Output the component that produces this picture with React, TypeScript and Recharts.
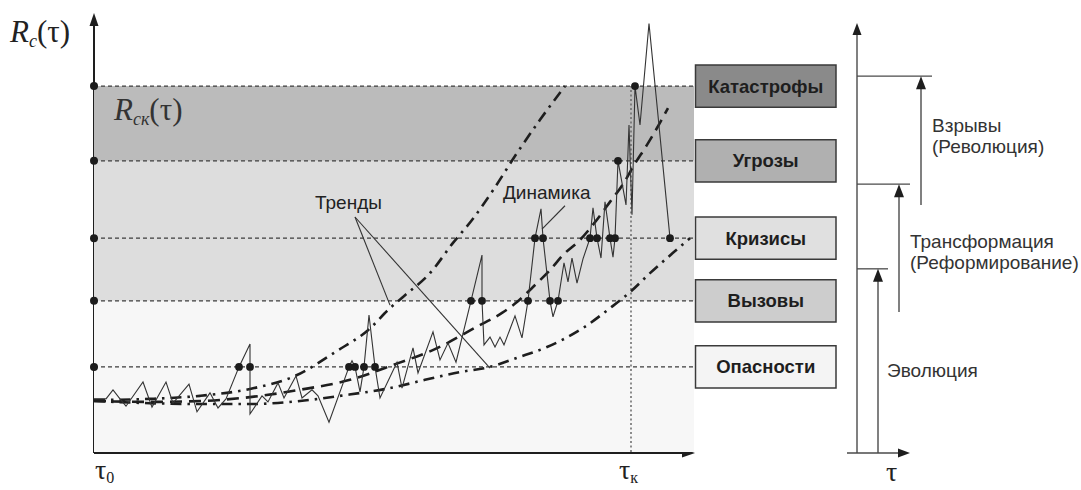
import React from "react";
import {
  ComposedChart,
  Line,
  XAxis,
  YAxis,
  ReferenceArea,
  ReferenceLine,
  ReferenceDot,
  Customized,
} from "recharts";

const W = 1081;
const H = 490;
const M = { top: 20, right: 387, bottom: 38, left: 94 };
const X_MAX = 120;
const Y_MAX = 100;
const SANS = "'Liberation Sans', Arial, sans-serif";
const SERIF = "'Liberation Serif', 'Times New Roman', serif";
const FS = 19;

// threshold levels, bottom to top
const levelNames = ["Опасности", "Вызовы", "Кризисы", "Угрозы", "Катастрофы"];
const levelValues = [19.7, 35.0, 49.5, 67.4, 84.7];
const boxFills = ["#f4f4f4", "#cdcdcd", "#e0e0e0", "#b0b0b0", "#8a8a8a"];

// background bands
const bandEdges = [0, 35.0, 67.4, 84.7];
const bandFills = ["#f7f7f7", "#dddddd", "#bbbbbb"];

// system state R_c(τ); m = crossing of a threshold
const dynamics = [
  { t: 0, v: 12.3 }, { t: 2.4, v: 12.3 }, { t: 3.8, v: 14.4 }, { t: 5.2, v: 12.3 },
  { t: 6.4, v: 10.6 }, { t: 9.8, v: 16.2 }, { t: 11.6, v: 10.4 }, { t: 14.4, v: 16.2 },
  { t: 15.8, v: 11.3 }, { t: 19.0, v: 15.7 }, { t: 20.6, v: 9.3 }, { t: 23.2, v: 13.7 },
  { t: 24.8, v: 10.2 }, { t: 26.4, v: 12.3 }, { t: 29.0, v: 19.7, m: 1 }, { t: 31.2, v: 25.0 },
  { t: 31.2, v: 19.7, m: 1 }, { t: 31.2, v: 8.8 }, { t: 33.6, v: 13.0 }, { t: 34.8, v: 11.6 },
  { t: 36.8, v: 16.0 }, { t: 38.0, v: 12.5 }, { t: 40.4, v: 17.6 }, { t: 41.6, v: 12.5 },
  { t: 43.6, v: 14.4 }, { t: 44.8, v: 13.0 }, { t: 47.0, v: 6.9 }, { t: 51.0, v: 19.7, m: 1 },
  { t: 51.6, v: 21.1 }, { t: 52.2, v: 19.7, m: 1 }, { t: 53.2, v: 13.9 }, { t: 54.0, v: 19.7, m: 1 },
  { t: 55.0, v: 31.7 }, { t: 56.2, v: 19.7, m: 1 }, { t: 57.2, v: 12.5 }, { t: 60.6, v: 20.8 },
  { t: 61.6, v: 14.8 }, { t: 63.8, v: 24.1 }, { t: 64.8, v: 18.3 }, { t: 67.8, v: 27.8 },
  { t: 69.2, v: 21.3 }, { t: 70.8, v: 25.2 }, { t: 72.4, v: 20.8 }, { t: 75.4, v: 35.0, m: 1 },
  { t: 77.6, v: 45.6 }, { t: 77.6, v: 35.0, m: 1 }, { t: 78.0, v: 24.8 }, { t: 79.2, v: 26.6 },
  { t: 80.2, v: 24.3 }, { t: 81.2, v: 26.6 }, { t: 82.0, v: 24.8 }, { t: 84.2, v: 31.5 },
  { t: 85.6, v: 26.4 }, { t: 86.8, v: 35.0, m: 1 }, { t: 88.2, v: 49.5, m: 1 }, { t: 89.4, v: 56.3 },
  { t: 89.8, v: 49.5, m: 1 }, { t: 91.2, v: 35.0, m: 1 }, { t: 91.8, v: 31.3 }, { t: 92.8, v: 35.0, m: 1 },
  { t: 94.0, v: 43.8 }, { t: 94.8, v: 39.4 }, { t: 95.6, v: 44.9 }, { t: 96.6, v: 39.1 },
  { t: 97.8, v: 44.7 }, { t: 99.2, v: 49.5, m: 1 }, { t: 99.8, v: 56.5 }, { t: 100.6, v: 49.5, m: 1 },
  { t: 101.4, v: 44.9 }, { t: 102.2, v: 57.9 }, { t: 103.2, v: 49.5, m: 1 }, { t: 103.8, v: 45.1 },
  { t: 104.2, v: 49.5, m: 1 }, { t: 104.8, v: 67.4, m: 1 }, { t: 106.4, v: 57.2 }, { t: 107.0, v: 75.7 },
  { t: 107.6, v: 54.9 }, { t: 108.2, v: 84.7, m: 1 }, { t: 109.2, v: 75.7 }, { t: 111.0, v: 99.2 },
  { t: 115.2, v: 49.5, m: 1 },
];

// trends
const trendUpper = [
  { t: 0, v: 12.0 }, { t: 11.2, v: 12.3 }, { t: 21.2, v: 13.0 }, { t: 31.2, v: 14.6 },
  { t: 40.2, v: 17.6 }, { t: 48.6, v: 23.4 }, { t: 54.8, v: 28.2 }, { t: 59.2, v: 33.3 },
  { t: 62.2, v: 36.3 }, { t: 67.2, v: 41.4 }, { t: 71.8, v: 48.4 }, { t: 75.6, v: 53.7 },
  { t: 79.8, v: 60.6 }, { t: 84.6, v: 69.2 }, { t: 89.2, v: 76.9 }, { t: 94.2, v: 84.7 },
];
const trendMiddle = [
  { t: 0, v: 11.8 }, { t: 11.2, v: 11.6 }, { t: 21.2, v: 11.8 }, { t: 31.2, v: 12.7 },
  { t: 41.2, v: 14.4 }, { t: 51.2, v: 16.7 }, { t: 60.4, v: 20.4 }, { t: 68.2, v: 23.8 },
  { t: 76.4, v: 28.9 }, { t: 81.6, v: 32.2 }, { t: 84.6, v: 34.7 }, { t: 87.8, v: 38.2 },
  { t: 91.2, v: 42.1 }, { t: 93.8, v: 45.6 }, { t: 97.2, v: 49.1 }, { t: 100.2, v: 53.2 },
  { t: 103.2, v: 57.9 }, { t: 105.8, v: 62.0 }, { t: 108.0, v: 66.4 }, { t: 110.6, v: 71.1 },
  { t: 112.6, v: 75.0 }, { t: 114.8, v: 79.6 },
];
const trendLower = [
  { t: 0, v: 11.8 }, { t: 11.2, v: 11.3 }, { t: 21.2, v: 11.1 }, { t: 31.2, v: 11.1 },
  { t: 41.2, v: 11.8 }, { t: 49.2, v: 13.0 }, { t: 59.2, v: 14.8 }, { t: 66.2, v: 16.7 },
  { t: 73.2, v: 18.5 }, { t: 79.2, v: 19.7 }, { t: 84.6, v: 21.8 }, { t: 90.6, v: 24.3 },
  { t: 97.8, v: 28.7 }, { t: 103.2, v: 33.3 }, { t: 107.2, v: 37.0 }, { t: 111.2, v: 41.4 },
  { t: 115.8, v: 46.1 }, { t: 119.2, v: 49.5 },
];

const tauK = 107.4;

// right schematic: stage thresholds and arrow starts (same R scale)
const stageNames = ["Эволюция", "Трансформация", "Взрывы"];
const stageTops = [42.4, 62.0, 87.0];
const stageStarts = [0, 32.4, 57.2];

const PW = W - M.left - M.right;
const PH = H - M.top - M.bottom;
const px = (t: number) => M.left + (t / X_MAX) * PW;
const py = (v: number) => M.top + (1 - v / Y_MAX) * PH;

const up = (x: number, y: number, w: number, h: number, fill: string) => (
  <polygon points={`${x},${y} ${x - w},${y + h} ${x + w},${y + h}`} fill={fill} />
);
const right = (x: number, y: number, w: number, h: number, fill: string) => (
  <polygon points={`${x},${y} ${x - h},${y - w} ${x - h},${y + w}`} fill={fill} />
);

const renderDot = (p: any) =>
  p.payload && p.payload.m ? (
    <circle key={`d${p.index}`} cx={p.cx} cy={p.cy} r={3.9} fill="#1c1c1c" />
  ) : (
    <g key={`d${p.index}`} />
  );

// labels drawn inside the plot, anchored at a data point (viewBox of a r=0 dot)
const plainLabel = (text: string) => (props: any) => {
  const vb = props.viewBox || {};
  return (
    <text x={vb.x} y={vb.y} fontFamily={SANS} fontSize={FS} fill="#222">
      {text}
    </text>
  );
};
const rskLabel = (props: any) => {
  const vb = props.viewBox || {};
  return (
    <text x={vb.x} y={vb.y} fontFamily={SERIF} fontSize={31} fill="#333">
      <tspan fontStyle="italic">R</tspan>
      <tspan fontStyle="italic" fontSize={18} dy={5}>ск</tspan>
      <tspan dy={-5}>(τ)</tspan>
    </text>
  );
};

function Overlay() {
  const ax = "#1e1e1e";
  const sc = "#4a4a4a";
  const axisX = 857;
  const stageX = [878, 899, 921];
  const stageEnd = [888, 910, 932];
  const y0 = py(0) + 1;
  return (
    <g>
      {/* main axes */}
      <line x1={px(0)} y1={y0} x2={px(0)} y2={25} stroke={ax} strokeWidth={2} />
      {up(px(0), 13, 4.5, 13, ax)}
      <line x1={px(0)} y1={y0} x2={682} y2={y0} stroke={ax} strokeWidth={2} />
      {right(695, y0, 4.5, 13, ax)}

      {/* axis labels */}
      <text x={10} y={42} fontFamily={SERIF} fontSize={31} fill="#222">
        <tspan fontStyle="italic">R</tspan>
        <tspan fontStyle="italic" fontSize={18} dy={5}>c</tspan>
        <tspan dy={-5}>(τ)</tspan>
      </text>
      <text x={95} y={479} fontFamily={SERIF} fontSize={28} fill="#222">
        τ<tspan fontSize={16} dy={4}>0</tspan>
      </text>
      <text x={619} y={479} fontFamily={SERIF} fontSize={28} fill="#222">
        τ<tspan fontSize={16} dy={4}>к</tspan>
      </text>

      {/* right schematic */}
      <line x1={axisX} y1={y0} x2={axisX} y2={35} stroke={sc} strokeWidth={1.4} />
      {up(axisX, 23, 4.5, 12, ax)}
      <line x1={847} y1={y0} x2={898} y2={y0} stroke={sc} strokeWidth={1.4} />
      {right(910, y0, 4.5, 12, ax)}
      {stageTops.map((v, i) => (
        <g key={`st${i}`}>
          <line x1={axisX} y1={py(v)} x2={stageEnd[i]} y2={py(v)} stroke={sc} strokeWidth={1.3} />
          <line x1={stageX[i]} y1={py(stageStarts[i]) + (i === 0 ? 1 : 0)} x2={stageX[i]} y2={py(v) + 10} stroke={sc} strokeWidth={1.4} />
          {up(stageX[i], py(v), 5, 13, ax)}
        </g>
      ))}
      <text x={932} y={132} fontFamily={SANS} fontSize={FS} fill="#333">{stageNames[2]}</text>
      <text x={932} y={153} fontFamily={SANS} fontSize={FS} fill="#333">(Революция)</text>
      <text x={910} y={248} fontFamily={SANS} fontSize={FS} fill="#333">{stageNames[1]}</text>
      <text x={910} y={269} fontFamily={SANS} fontSize={FS} fill="#333">(Реформирование)</text>
      <text x={887} y={377} fontFamily={SANS} fontSize={FS} fill="#333">{stageNames[0]}</text>
      <text x={886} y={481} fontFamily={SERIF} fontSize={28} fill="#222">τ</text>
    </g>
  );
}

export default function App() {
  return (
    <div style={{ width: W, height: H, background: "#fff" }}>
      <style>{"body{margin:0;background:#fff}"}</style>
      <ComposedChart width={W} height={H} margin={M}>
        <XAxis type="number" dataKey="t" domain={[0, X_MAX]} hide allowDataOverflow />
        <YAxis type="number" dataKey="v" domain={[0, Y_MAX]} hide allowDataOverflow />

        {bandFills.map((f, i) => (
          <ReferenceArea
            key={`band${i}`}
            x1={0}
            x2={X_MAX}
            y1={bandEdges[i]}
            y2={bandEdges[i + 1]}
            fill={f}
            fillOpacity={1}
            stroke="none"
          />
        ))}

        {levelValues.map((v, i) => (
          <ReferenceLine key={`lvl${i}`} y={v} stroke="#3c3c3c" strokeWidth={1.2} strokeDasharray="4 3" />
        ))}

        <ReferenceLine
          segment={[{ x: tauK, y: 0 }, { x: tauK, y: levelValues[4] }]}
          stroke="#6a6a6a"
          strokeWidth={1.5}
          strokeDasharray="2 2.5"
        />

        {levelNames.map((name, i) => (
          <ReferenceArea
            key={`box${i}`}
            x1={120.3}
            x2={148.4}
            y1={levelValues[i] - 4.9}
            y2={levelValues[i] + 4.9}
            fill={boxFills[i]}
            fillOpacity={1}
            stroke="#3a3a3a"
            strokeWidth={1.5}
            ifOverflow="visible"
            label={{
              value: name,
              position: "center",
              fill: "#1e1e1e",
              fontSize: 18.5,
              fontWeight: 700,
              fontFamily: SANS,
            }}
          />
        ))}

        {/* pointers */}
        <ReferenceLine segment={[{ x: 52.2, y: 54.4 }, { x: 59.2, y: 34.0 }]} stroke="#333" strokeWidth={1.1} />
        <ReferenceLine segment={[{ x: 52.2, y: 54.4 }, { x: 79.2, y: 19.4 }]} stroke="#333" strokeWidth={1.1} />
        <ReferenceLine segment={[{ x: 94.2, y: 57.0 }, { x: 89.6, y: 51.6 }]} stroke="#333" strokeWidth={1.1} />

        <Line
          data={trendLower}
          dataKey="v"
          type="monotone"
          stroke="#1e1e1e"
          strokeWidth={2.6}
          strokeDasharray="11 6 2.5 6"
          dot={false}
          isAnimationActive={false}
        />
        <Line
          data={trendUpper}
          dataKey="v"
          type="monotone"
          stroke="#1e1e1e"
          strokeWidth={2.6}
          strokeDasharray="11 6 2.5 6"
          dot={false}
          isAnimationActive={false}
        />
        <Line
          data={trendMiddle}
          dataKey="v"
          type="monotone"
          stroke="#1e1e1e"
          strokeWidth={2.6}
          strokeDasharray="12 7"
          dot={false}
          isAnimationActive={false}
        />
        <Line
          data={dynamics}
          dataKey="v"
          type="linear"
          stroke="#333"
          strokeWidth={1.1}
          dot={renderDot}
          activeDot={false}
          isAnimationActive={false}
        />

        {levelValues.map((v, i) => (
          <ReferenceDot key={`ld${i}`} x={0} y={v} r={4} fill="#1c1c1c" stroke="none" ifOverflow="visible" />
        ))}

        <ReferenceDot x={4} y={76.9} r={0} fill="none" stroke="none" label={rskLabel} />
        <ReferenceDot x={44.2} y={56.3} r={0} fill="none" stroke="none" label={plainLabel("Тренды")} />
        <ReferenceDot x={81.8} y={58.6} r={0} fill="none" stroke="none" label={plainLabel("Динамика")} />

        <Customized component={<Overlay />} />
      </ComposedChart>
    </div>
  );
}
